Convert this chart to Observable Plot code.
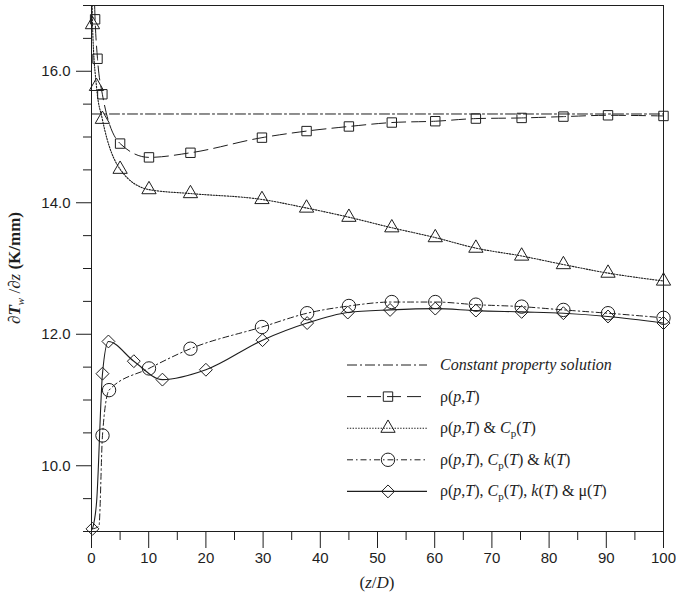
<!DOCTYPE html>
<html>
<head>
<meta charset="utf-8">
<script src="https://cdn.jsdelivr.net/npm/d3@7"></script>
<script src="https://cdn.jsdelivr.net/npm/@observablehq/plot@0.6"></script>
<style>
  html, body { margin: 0; padding: 0; background: #fff; }
  #chart svg { display: block; }
</style>
</head>
<body>
<div id="chart"></div>
<script>
// ---- Data ----
const constX = [0, 100];
const constY = [15.35, 15.35];

// rho(p,T) — squares
const sqX = [0.63, 1.05, 1.9, 5.0, 10.05, 17.3, 29.8, 37.6, 45.0, 52.5, 60.1, 67.2, 75.2, 82.5, 90.3, 100];
const sqY = [16.79, 16.19, 15.65, 14.90, 14.69, 14.76, 14.99, 15.09, 15.16, 15.22, 15.24, 15.28, 15.29, 15.31, 15.33, 15.32];
const sqLeadX = [0.35];
const sqLeadY = [17.6];

// rho(p,T) & Cp(T) — triangles
const triX = [0.17, 0.87, 1.9, 5.0, 10.05, 17.3, 29.8, 37.6, 45.0, 52.5, 60.1, 67.2, 75.2, 82.5, 90.3, 100];
const triY = [16.71, 15.77, 15.27, 14.51, 14.20, 14.14, 14.05, 13.92, 13.78, 13.62, 13.47, 13.31, 13.19, 13.06, 12.93, 12.81];
const triLeadX = [0.05];
const triLeadY = [17.6];

// rho(p,T), Cp(T) & k(T) — circles
const circX = [1.92, 3.07, 10.05, 17.3, 29.8, 37.7, 45.0, 52.5, 60.1, 67.2, 75.2, 82.5, 90.3, 100];
const circY = [10.46, 11.15, 11.48, 11.78, 12.11, 12.32, 12.43, 12.49, 12.49, 12.45, 12.42, 12.37, 12.32, 12.25];
const circLeadX = [0.17, 1.3];
const circLeadY = [9.04, 9.08];

// rho(p,T), Cp(T), k(T) & mu(T) — diamonds
const diaX = [0.17, 1.92, 2.96, 7.4, 12.4, 20.0, 29.9, 37.7, 44.8, 52.2, 60.1, 67.2, 75.2, 82.5, 90.3, 100];
const diaY = [9.04, 11.40, 11.89, 11.59, 11.31, 11.46, 11.91, 12.17, 12.33, 12.37, 12.39, 12.36, 12.34, 12.32, 12.27, 12.17];
const diaLeadX = [0.9];
const diaLeadY = [9.46];

const xMajorTicks = [0, 10, 20, 30, 40, 50, 60, 70, 80, 90, 100];
const yMajorTicks = [10, 12, 14, 16];

// ---- Build tables ----
const rows = (xs, ys) => xs.map((x, i) => ({x, y: ys[i]}));
const lineRows = (xs, ys, lx, ly) => rows(xs, ys).concat(rows(lx, ly)).sort((a, b) => a.x - b.x);

const constRows = rows(constX, constY);
const sqRows = rows(sqX, sqY), sqLine = lineRows(sqX, sqY, sqLeadX, sqLeadY);
const triRows = rows(triX, triY), triLine = lineRows(triX, triY, triLeadX, triLeadY);
const circRows = rows(circX, circY), circLine = lineRows(circX, circY, circLeadX, circLeadY);
const diaRows = rows(diaX, diaY), diaLine = lineRows(diaX, diaY, diaLeadX, diaLeadY);

const INK = "#1e1e1e";
const styles = {
  cons: {dash: "10,3,2,3", w: 1},
  sq:   {dash: "14,6", w: 1, symbol: "square", r: 5.3},
  tri:  {dash: "1.4,1.4", w: 1.1, symbol: "triangle", r: 5.3},
  circ: {dash: "6,3,1.5,3", w: 1, symbol: "circle", r: 6.7},
  dia:  {dash: null, w: 1.1, symbol: "diamond2", r: 5.8}
};

const minorX = d3.range(5, 100, 10);
const minorY = d3.range(9, 17.01, 0.5).filter(v => !yMajorTicks.includes(v));

const lineMark = (data, s) => Plot.line(data, {x: "x", y: "y", stroke: INK, strokeWidth: s.w,
  strokeDasharray: s.dash || undefined, curve: "monotone-x", clip: true});
const dotMark = (data, s) => Plot.dot(data, {x: "x", y: "y", symbol: () => s.symbol, r: s.r,
  stroke: INK, strokeWidth: 1, fill: "none"});

const plot = Plot.plot({
  width: 676,
  height: 594,
  marginLeft: 91,
  marginRight: 13,
  marginTop: 5,
  marginBottom: 63,
  x: {domain: [0, 100]},
  y: {domain: [9, 17]},
  symbol: {type: "identity"},
  style: {fontFamily: "'Liberation Sans', Arial, Helvetica, sans-serif", fontSize: "15px", color: INK, background: "#fff"},
  marks: [
    Plot.axisX({ticks: minorX, tickSize: 9, tickFormat: () => "", label: null}),
    Plot.axisX({ticks: xMajorTicks, tickSize: 17, tickPadding: 4, tickFormat: d => String(d), label: null}),
    Plot.axisY({ticks: minorY, tickSize: 8, tickFormat: () => "", label: null}),
    Plot.axisY({ticks: yMajorTicks, tickSize: 15, tickPadding: 6, tickFormat: d3.format(".1f"), label: null}),
    lineMark(constRows, styles.cons),
    lineMark(sqLine, styles.sq),
    lineMark(triLine, styles.tri),
    lineMark(circLine, styles.circ),
    lineMark(diaLine, styles.dia),
    dotMark(sqRows, styles.sq),
    dotMark(triRows, styles.tri),
    dotMark(circRows, styles.circ),
    dotMark(diaRows, styles.dia),
    Plot.frame({stroke: INK, strokeWidth: 1})
  ]
});

document.getElementById("chart").appendChild(plot);

// ---- Rich text helpers ----
const svg = d3.select(plot);
const SERIF = "'Liberation Serif', 'Times New Roman', Times, serif";

function rich(sel, segs, subSize) {
  let shift = 0;
  segs.forEach(([t, f]) => {
    const ts = sel.append("tspan").text(t);
    if (f.includes("I")) ts.attr("font-style", "italic");
    if (f.includes("B")) ts.attr("font-weight", "bold");
    const target = f.includes("S") ? 4 : 0;
    if (target !== shift) { ts.attr("dy", target - shift); shift = target; }
    if (f.includes("S")) ts.attr("font-size", subSize);
  });
}

// Y axis label
const yl = svg.append("text")
  .attr("transform", "translate(20,268) rotate(-90)")
  .attr("text-anchor", "middle")
  .attr("font-family", SERIF)
  .attr("font-size", "17px")
  .attr("fill", INK);
rich(yl, [["∂", ""], ["T", "IB"], ["w", "IS"], [" /∂", ""], ["z", "I"], [" (K/mm)", "B"]], "11px");

// X axis label
const xl = svg.append("text")
  .attr("x", 377).attr("y", 588)
  .attr("text-anchor", "middle")
  .attr("font-family", SERIF)
  .attr("font-size", "17px")
  .attr("fill", INK);
rich(xl, [["(", ""], ["z", "I"], ["/", ""], ["D", "I"], [")", ""]], "11px");

// Legend
const legendItems = [
  {s: styles.cons, segs: [["Constant property solution", "I"]]},
  {s: styles.sq, segs: [["ρ(", ""], ["p", "I"], [",", ""], ["T", "I"], [")", ""]]},
  {s: styles.tri, segs: [["ρ(", ""], ["p", "I"], [",", ""], ["T", "I"], [") & ", ""], ["C", "I"], ["p", "S"], ["(", ""], ["T", "I"], [")", ""]]},
  {s: styles.circ, segs: [["ρ(", ""], ["p", "I"], [",", ""], ["T", "I"], ["), ", ""], ["C", "I"], ["p", "S"], ["(", ""], ["T", "I"], [") & ", ""], ["k", "I"], ["(", ""], ["T", "I"], [")", ""]]},
  {s: styles.dia, segs: [["ρ(", ""], ["p", "I"], [",", ""], ["T", "I"], ["), ", ""], ["C", "I"], ["p", "S"], ["(", ""], ["T", "I"], ["), ", ""], ["k", "I"], ["(", ""], ["T", "I"], [") & μ(", ""], ["T", "I"], [")", ""]]}
];
const legY0 = 365, legDy = 31.6, lx0 = 347, lx1 = 427, lxm = 388, ltx = 440;
const lg = svg.append("g");
legendItems.forEach((it, i) => {
  const y = legY0 + i * legDy;
  lg.append("line").attr("x1", lx0).attr("x2", lx1).attr("y1", y).attr("y2", y)
    .attr("stroke", INK).attr("stroke-width", it.s.w)
    .attr("stroke-dasharray", it.s.dash || null);
  if (it.s.symbol) {
    const symMap = {square: d3.symbolSquare, triangle: d3.symbolTriangle, circle: d3.symbolCircle, diamond2: d3.symbolDiamond2};
    lg.append("path")
      .attr("d", d3.symbol(symMap[it.s.symbol], it.s.r * it.s.r * Math.PI)())
      .attr("transform", `translate(${lxm},${y})`)
      .attr("fill", "none").attr("stroke", INK).attr("stroke-width", 1);
  }
  const t = lg.append("text").attr("x", ltx).attr("y", y + 5)
    .attr("text-anchor", "start")
    .attr("font-family", SERIF).attr("font-size", "16px").attr("fill", INK);
  rich(t, it.segs, "11px");
});
</script>
</body>
</html>
